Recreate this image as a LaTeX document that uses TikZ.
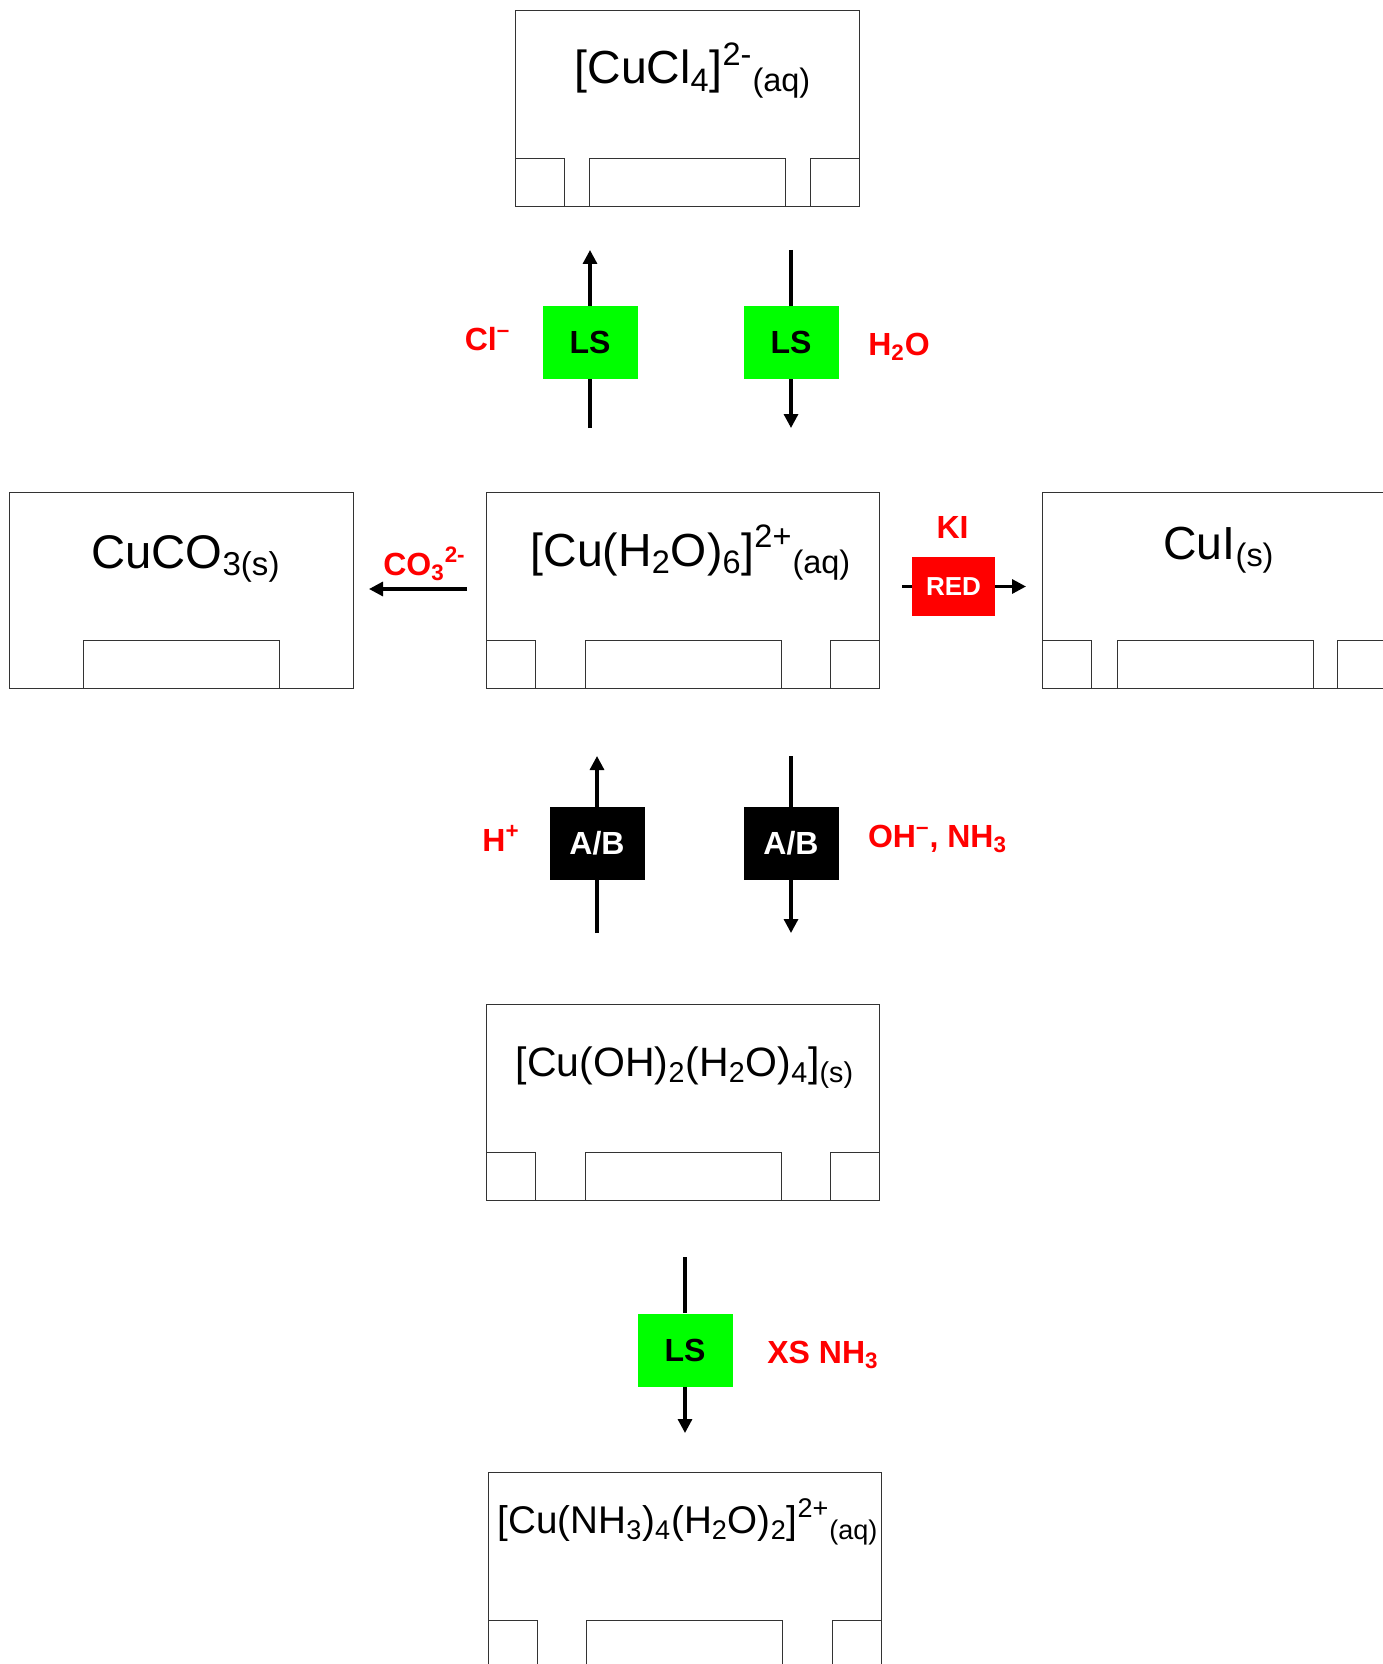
\documentclass[tikz,border=0pt]{standalone}
\usepackage{fontspec}
\setmainfont{Liberation Sans}
\usetikzlibrary{arrows.meta}

\begin{document}
\begin{tikzpicture}[x=0.5pt,y=-0.5pt,
    box/.style={draw=black!80,line width=0.5pt},
    chem/.style={anchor=base,inner sep=0pt,font=\fontsize{23.2}{28}\selectfont},
    cond/.style={anchor=base,inner sep=0pt,text=red,font=\fontsize{16}{19}\selectfont\bfseries},
    ls/.style={fill=green,minimum width=47.5pt,minimum height=36.5pt,inner sep=0pt,font=\fontsize{16}{19}\selectfont\bfseries},
    ab/.style={ls,fill=black,text=white},
    redox/.style={fill=red,text=white,minimum width=41.5pt,minimum height=29.5pt,inner sep=0pt,font=\fontsize{13}{16}\selectfont\bfseries},
    stem/.style={line width=1.6pt},
    rxn/.style={stem,-{Triangle[length=7pt,width=7pt]}}]
\useasboundingbox (0,0) rectangle (1382,1664);
% species boxes
\draw[box] (515,11) rectangle (859,207);
\foreach \a/\b in {515/564,589/785,810/859} \draw[box] (\a,207) rectangle (\b,159);
\draw[box] (486,492) rectangle (879,688);
\foreach \a/\b in {486/535,585/781,830/879} \draw[box] (\a,688) rectangle (\b,640);
\draw[box] (9.5,492) rectangle (353.5,688);
\draw[box] (83,688) rectangle (279,640);
\draw[box] (1042,492) rectangle (1400,688);
\foreach \a/\b in {1042/1091,1117/1313,1337/1400} \draw[box] (\a,688) rectangle (\b,640);
\draw[box] (486,1004) rectangle (879,1200);
\foreach \a/\b in {486/535,585/781,830/879} \draw[box] (\a,1200) rectangle (\b,1152);
\draw[box] (488,1472) rectangle (881,1680);
\foreach \a/\b in {488/537,586/782,832/881} \draw[box] (\a,1680) rectangle (\b,1620);
% formulas
\node[chem] (cucl) at (693,84) {[CuCl\textsubscript{4}]\textsuperscript{2-}\textsubscript{(aq)}};
\node[chem] (hexaqua) at (691,566) {[Cu(H\textsubscript{2}O)\textsubscript{6}]\textsuperscript{2+}\textsubscript{(aq)}};
\node[chem,font=\fontsize{23.6}{28}\selectfont] (carb) at (186,568) {CuCO\textsubscript{3(s)}};
\node[chem] (iodide) at (1219,559) {CuI\textsubscript{(s)}};
\node[chem,font=\fontsize{20.5}{25}\selectfont] (hydrox) at (685,1076) {[Cu(OH)\textsubscript{2}(H\textsubscript{2}O)\textsubscript{4}]\textsubscript{(s)}};
\node[chem,font=\fontsize{19.3}{24}\selectfont] (ammine) at (688,1533) {[Cu(NH\textsubscript{3})\textsubscript{4}(H\textsubscript{2}O)\textsubscript{2}]\textsuperscript{2+}\textsubscript{(aq)}};
% ligand substitution with Cl-
\node[ls] (lsfwd) at (590,342.5) {LS};
\coordinate (lsfwdA) at (590,428);
\coordinate (lsfwdB) at (590,250);
\draw[stem] (lsfwdA) -- (lsfwd.south);
\draw[rxn] (lsfwd.north) -- (lsfwdB);
\node[cond] (chloride) at (487.5,350) {Cl\textsuperscript{\textendash}};
% back with water
\node[ls] (lsback) at (791,342.5) {LS};
\coordinate (lsbackA) at (791,250);
\coordinate (lsbackB) at (791,428);
\draw[stem] (lsbackA) -- (lsback.north);
\draw[rxn] (lsback.south) -- (lsbackB);
\node[cond] (water) at (899,355) {H\textsubscript{2}O};
% carbonate
\coordinate (carbA) at (467,589);
\coordinate (carbB) at (369,589);
\draw[rxn] (carbA) -- (carbB);
\node[cond] (carbion) at (424.5,575) {CO\textsubscript{3}\textsuperscript{2-}};
% reduction with KI
\node[redox] (red) at (953.5,586.5) {RED};
\coordinate (redA) at (902,586.5);
\coordinate (redB) at (1026,586.5);
\draw[stem] (redA) -- (red.west);
\draw[rxn] (red.east) -- (redB);
\node[cond] (ki) at (952.5,538) {KI};
% acid/base
\node[ab] (abup) at (597,843.5) {A/B};
\coordinate (abupA) at (597,933);
\coordinate (abupB) at (597,756);
\draw[stem] (abupA) -- (abup.south);
\draw[rxn] (abup.north) -- (abupB);
\node[cond] (acid) at (501,851) {H\textsuperscript{+}};
\node[ab] (abdown) at (791,843.5) {A/B};
\coordinate (abdownA) at (791,756);
\coordinate (abdownB) at (791,933);
\draw[stem] (abdownA) -- (abdown.north);
\draw[rxn] (abdown.south) -- (abdownB);
\node[cond] (base) at (937.5,847) {OH\textsuperscript{\textendash}, NH\textsubscript{3}};
% excess ammonia
\node[ls] (lsxs) at (685,1350) {LS};
\coordinate (lsxsA) at (685,1257);
\coordinate (lsxsB) at (685,1433);
\draw[stem] (lsxsA) -- (lsxs.north);
\draw[rxn] (lsxs.south) -- (lsxsB);
\node[cond] (xsnh) at (823,1363) {XS NH\textsubscript{3}};
\end{tikzpicture}
\end{document}
